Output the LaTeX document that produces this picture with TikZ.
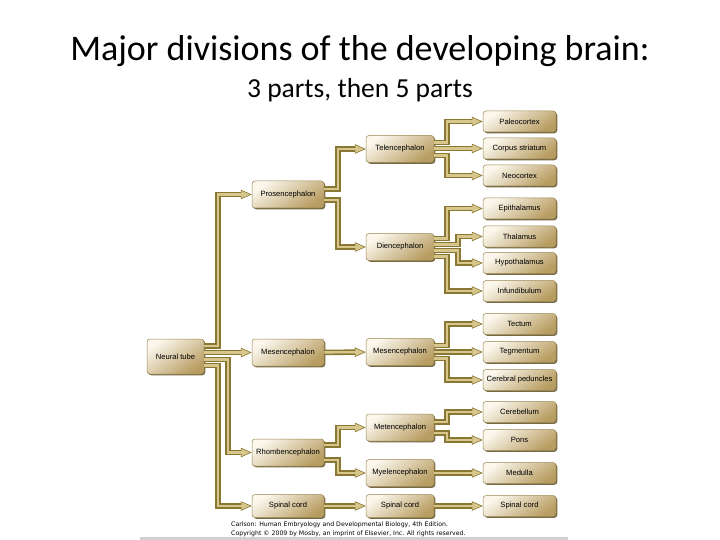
\documentclass[tikz,border=0pt]{standalone}
\usepackage{fontspec}
\setmainfont{Liberation Sans}
\newfontfamily\titlefont{Carlito}
\newfontfamily\srcfont{DejaVu Sans}
\usetikzlibrary{calc}
\usetikzlibrary{arrows.meta,shadows}

\definecolor{pipedark}{HTML}{8A7733}
\definecolor{pipelight}{HTML}{D8C78C}
\definecolor{boxlight}{HTML}{FBF7EC}
\definecolor{boxdark}{HTML}{B89D62}
\definecolor{boxline}{HTML}{9A8550}
\definecolor{boxshadow}{HTML}{5E4F25}

\begin{document}
\begin{tikzpicture}
% pixel units, y downwards
[
    x=1pt, y=-1pt,
    part/.style={draw=boxline, line width=0.5pt, rounded corners=3pt,
      top color=boxlight, bottom color=boxdark, shading angle=35,
      drop shadow={shadow xshift=1.3pt, shadow yshift=-1.3pt, fill=boxshadow, opacity=0.85},
      minimum width=72pt, minimum height=27pt, inner sep=1pt,
      font=\fontsize{7.6}{8}\selectfont},
    sub/.style={part, minimum width=68pt},
    leaf/.style={part, minimum width=73pt, minimum height=21pt},
    pipe/.style={draw=pipedark, line width=5.5pt,
      -{Triangle[length=11pt, width=9.5pt, line width=0.6pt, fill=pipelight]},
      postaction={draw=pipelight, line width=2.4pt, -, shorten >=10pt}}
]
\useasboundingbox (0,0) rectangle (720,540);

% titles
\node (title) at (360,51) {\titlefont\fontsize{36}{40}\selectfont Major divisions of the developing brain:};
\node (subtitle) at (360,90) {\titlefont\fontsize{27.5}{30}\selectfont 3 parts, then 5 parts};

% pipe columns
\coordinate (ca) at (218,0);
\coordinate (cb) at (228,0);
\coordinate (cc) at (338,0);
\coordinate (cd) at (447,0);
\coordinate (ce) at (458,0);

% 3 parts
\node[part, minimum width=57pt, minimum height=35pt] (nt) at (175.5,356.5) {Neural tube};
\node[part] (pros) at (288,194.5) {Prosencephalon};
\node[part] (mes) at (288,352.5) {Mesencephalon};
\node[part] (rho) at (288,452.5) {Rhombencephalon};
\node[part, minimum height=23pt] (spa) at (288,506) {Spinal cord};

% 5 parts
\node[sub] (tel) at (400,149) {Telencephalon};
\node[sub] (die) at (400,247) {Diencephalon};
\node[sub] (mesb) at (400,352) {Mesencephalon};
\node[sub] (met) at (400,427.5) {Metencephalon};
\node[sub] (mye) at (400,473) {Myelencephalon};
\node[sub, minimum height=23pt] (spb) at (400,506) {Spinal cord};

% adult structures
\node[leaf] (pal) at (519.5,121.5) {Paleocortex};
\node[leaf] (cor) at (519.5,148.5) {Corpus striatum};
\node[leaf] (neo) at (519.5,175.5) {Neocortex};
\node[leaf] (epi) at (519.5,208.5) {Epithalamus};
\node[leaf] (tha) at (519.5,236.5) {Thalamus};
\node[leaf] (hyp) at (519.5,263) {Hypothalamus};
\node[leaf] (inf) at (519.5,291) {Infundibulum};
\node[leaf] (tec) at (519.5,324) {Tectum};
\node[leaf] (teg) at (519.5,352) {Tegmentum};
\node[leaf] (cer) at (519.5,380) {Cerebral peduncles};
\node[leaf] (cbl) at (519.5,412) {Cerebellum};
\node[leaf] (pon) at (519.5,440) {Pons};
\node[leaf] (med) at (519.5,473) {Medulla};
\node[leaf] (spc) at (519.5,506) {Spinal cord};

% neural tube
\draw[pipe] ($(nt.east)+(0,-10.5)$) -| (ca |- pros) -- (pros);
\draw[pipe] (nt.east |- mes) -- (mes);
\draw[pipe] ($(nt.east)+(0,3)$) -| (cb |- rho) -- (rho);
\draw[pipe] ($(nt.east)+(0,9)$) -| (ca |- spa) -- (spa);

% second step
\draw[pipe] ($(pros.east)+(0,-5.5)$) -| (cc |- tel) -- (tel);
\draw[pipe] ($(pros.east)+(0,5.5)$) -| (cc |- die) -- (die);
\draw[pipe] (mes) -- (mesb);
\draw[pipe] ($(rho.east)+(0,-7.5)$) -| (cc |- met) -- (met);
\draw[pipe] ($(rho.east)+(0,7.5)$) -| (cc |- mye) -- (mye);
\draw[pipe] (spa) -- (spb);

% last step
\draw[pipe] ($(tel.east)+(0,-6.5)$) -| (cd |- pal) -- (pal);
\draw[pipe] (tel.east |- cor) -- (cor);
\draw[pipe] ($(tel.east)+(0,6.5)$) -| (cd |- neo) -- (neo);
\draw[pipe] ($(die.east)+(0,-8.5)$) -| (cd |- epi) -- (epi);
\draw[pipe] ($(die.east)+(0,-2.5)$) -| (ce |- tha) -- (tha);
\draw[pipe] ($(die.east)+(0,3.5)$) -| (ce |- hyp) -- (hyp);
\draw[pipe] ($(die.east)+(0,9.5)$) -| (cd |- inf) -- (inf);
\draw[pipe] ($(mesb.east)+(0,-6.5)$) -| (cd |- tec) -- (tec);
\draw[pipe] (mesb) -- (teg);
\draw[pipe] ($(mesb.east)+(0,6.5)$) -| (cd |- cer) -- (cer);
\draw[pipe] ($(met.east)+(0,-5.5)$) -| (cd |- cbl) -- (cbl);
\draw[pipe] ($(met.east)+(0,5.5)$) -| (cd |- pon) -- (pon);
\draw[pipe] (mye) -- (med);
\draw[pipe] (spb) -- (spc);

% source
\node[anchor=north west, align=left, inner sep=0pt, font=\srcfont\fontsize{6.2}{9}\selectfont] (src) at (231,521.5)
  {Carlson: Human Embryology and Developmental Biology, 4th Edition.\\
   Copyright \textcopyright{} 2009 by Mosby, an imprint of Elsevier, Inc. All rights reserved.};
\fill[black!18] (140,537) rectangle (568,540);
\end{tikzpicture}
\end{document}
